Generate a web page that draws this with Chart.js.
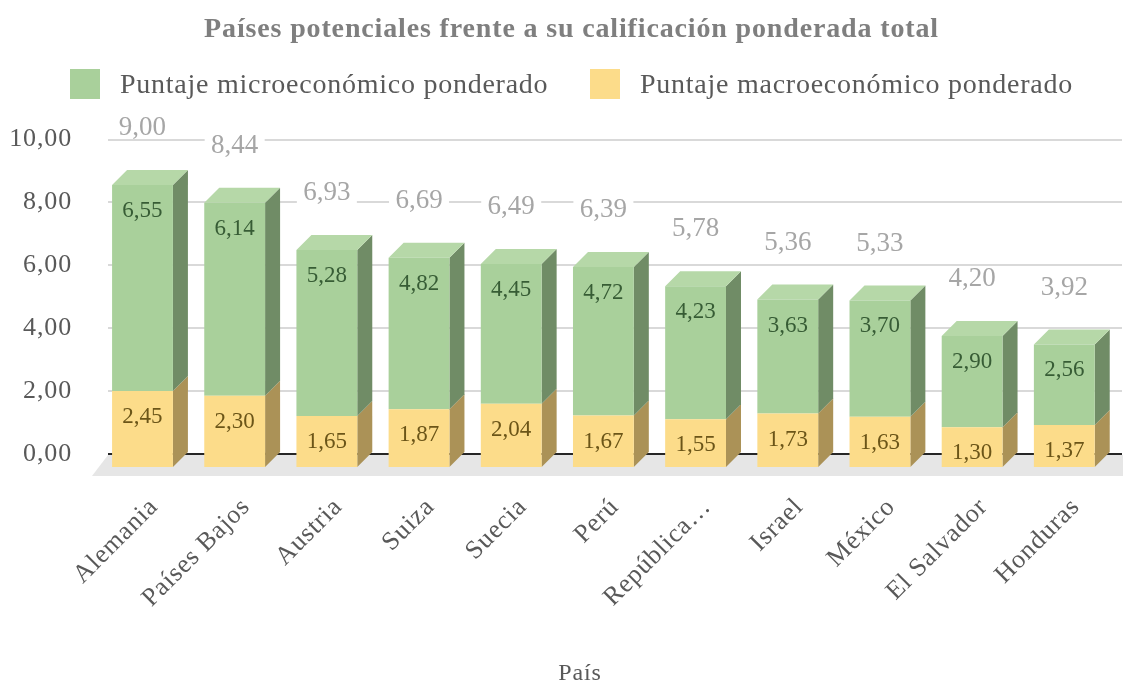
<!DOCTYPE html>
<html>
<head>
<meta charset="utf-8">
<title>Países potenciales</title>
<script src="https://cdn.jsdelivr.net/npm/chart.js@4"></script>
<style>
body{margin:0;background:#fff;}
canvas{display:block;}
</style>
</head>
<body>
<canvas id="grafico" width="1123" height="683"></canvas>
<script>
const paises=['Alemania','Países Bajos','Austria','Suiza','Suecia','Perú','República…','Israel','México','El Salvador','Honduras'];
const micro=[6.55,6.14,5.28,4.82,4.45,4.72,4.23,3.63,3.70,2.90,2.56];
const macro=[2.45,2.30,1.65,1.87,2.04,1.67,1.55,1.73,1.63,1.30,1.37];
const totales=[9.00,8.44,6.93,6.69,6.49,6.39,5.78,5.36,5.33,4.20,3.92];
const ticksY=[0,2,4,6,8,10];

const fuente='"Liberation Serif", serif';
const coma=v=>v.toFixed(2).replace('.',',');

// desplazamiento del frente de las barras y profundidad del efecto 3D
const frenteX=-11.6, frenteY=14, fondo=15;

const colores={
    micro:{frente:'#a9d09b',tapa:'#b6d8a8',lado:'#708c66',texto:'#375c35'},
    macro:{frente:'#fcdc8a',tapa:'#fce3a3',lado:'#ab9257',texto:'#6b5518'},
};

function cara(ctx,puntos,color){
    ctx.fillStyle=color;
    ctx.beginPath();
    puntos.forEach((p,i)=>i?ctx.lineTo(p[0],p[1]):ctx.moveTo(p[0],p[1]));
    ctx.closePath();
    ctx.fill();
}

// centra el titulo y el rotulo del eje donde van, sin mover las barras
const ajustes={
    id:'ajustes',
    afterLayout(chart){
        chart.titleBlock.left=21;
        chart.scales.x.left=38;
    },
    beforeDraw(chart){
        chart.ctx.letterSpacing='0.85px';
    },
};

// suelo, caras laterales y tapas de las barras
const barras3d={
    id:'barras3d',
    beforeDatasetsDraw(chart){
        const ctx=chart.ctx, a=chart.chartArea;
        const base=chart.scales.y.getPixelForValue(0);
        cara(ctx,[[a.left,base+1],[a.right+1,base+1],[a.right+1,base+22],[a.left-16,base+22]],'#e6e6e6');
        ctx.save();
        ctx.translate(frenteX,frenteY);
        chart.data.datasets.forEach((ds,d)=>{
            const tono=d===0?colores.macro:colores.micro;
            chart.getDatasetMeta(d).data.forEach(b=>{
                const der=b.x+b.width/2, izq=b.x-b.width/2;
                cara(ctx,[[der,b.y],[der+fondo,b.y-fondo],[der+fondo,b.base-fondo],[der,b.base]],tono.lado);
                if(d===1){
                    cara(ctx,[[izq,b.y],[izq+fondo,b.y-fondo],[der+fondo,b.y-fondo],[der,b.y]],tono.tapa);
                }
            });
        });
    },
    afterDatasetsDraw(chart){
        chart.ctx.restore();
    },
};

// etiquetas de cada tramo y total encima de cada barra
const etiquetas={
    id:'etiquetas',
    afterDraw(chart){
        const ctx=chart.ctx;
        ctx.save();
        ctx.letterSpacing='0px';
        ctx.textAlign='center';
        ctx.textBaseline='middle';
        ctx.font='23px '+fuente;
        chart.data.datasets.forEach((ds,d)=>{
            ctx.fillStyle=d===0?colores.macro.texto:colores.micro.texto;
            chart.getDatasetMeta(d).data.forEach((b,i)=>{
                ctx.fillText(coma(ds.data[i]),b.x+frenteX,b.y+frenteY+26);
            });
        });
        const y=chart.scales.y;
        ctx.font='27px '+fuente;
        chart.getDatasetMeta(0).data.forEach((b,i)=>{
            const cx=b.x+frenteX, cy=y.getPixelForValue(totales[i])-43;
            ctx.fillStyle='#fff';
            ctx.fillRect(cx-30,cy-11,60,22);
            ctx.fillStyle='#a6a6a6';
            ctx.fillText(coma(totales[i]),cx,cy);
        });
        ctx.restore();
    },
};

// leyenda con el cuadro separado del texto
const leyenda={
    id:'leyenda',
    afterDraw(chart){
        const ctx=chart.ctx;
        const posiciones=[[70,120,1],[590,640,0]];
        ctx.save();
        ctx.letterSpacing='0.75px';
        ctx.font='28px '+fuente;
        ctx.textBaseline='middle';
        posiciones.forEach(([xCuadro,xTexto,d])=>{
            const ds=chart.data.datasets[d];
            ctx.fillStyle=ds.backgroundColor;
            ctx.fillRect(xCuadro,69,30,30);
            ctx.fillStyle='#595959';
            ctx.fillText(ds.label,xTexto,86);
        });
        ctx.restore();
    },
};

new Chart(document.getElementById('grafico'),{
    type:'bar',
    data:{
        labels:paises,
        datasets:[
            {label:'Puntaje macroeconómico ponderado',data:macro,backgroundColor:colores.macro.frente},
            {label:'Puntaje microeconómico ponderado',data:micro,backgroundColor:colores.micro.frente},
        ],
    },
    options:{
        responsive:false,
        animation:false,
        barPercentage:0.66,
        categoryPercentage:1,
        layout:{padding:{left:0,right:1,top:0,bottom:0}},
        plugins:{
            legend:{display:false},
            tooltip:{enabled:false},
            title:{
                display:true,
                text:'Países potenciales frente a su calificación ponderada total',
                color:'#7f7f7f',
                font:{family:fuente,size:28,weight:'bold'},
                padding:{top:13,bottom:93},
            },
        },
        scales:{
            x:{
                stacked:true,
                afterFit(s){
                    s.height=229;
                    s.paddingLeft=0;
                    s.paddingRight=0;
                },
                border:{display:false},
                grid:{display:false},
                ticks:{
                    color:'#595959',
                    font:{family:fuente,size:26},
                    autoSkip:false,
                    minRotation:45,
                    maxRotation:45,
                    padding:30,
                },
                title:{
                    display:true,
                    text:'País',
                    color:'#595959',
                    font:{family:fuente,size:24},
                    padding:{top:0,bottom:-5},
                },
            },
            y:{
                stacked:true,
                min:0,
                max:10,
                afterFit(s){s.width=108;},
                afterBuildTicks(s){s.ticks=ticksY.map(v=>({value:v}));},
                border:{display:false},
                grid:{
                    color:c=>c.tick.value===0?'#262626':'#d9d9d9',
                    lineWidth:2,
                    drawTicks:false,
                },
                ticks:{
                    color:'#595959',
                    font:{family:fuente,size:26},
                    padding:36,
                    callback:v=>coma(v),
                },
            },
        },
    },
    plugins:[ajustes,barras3d,etiquetas,leyenda],
});
</script>
</body>
</html>
